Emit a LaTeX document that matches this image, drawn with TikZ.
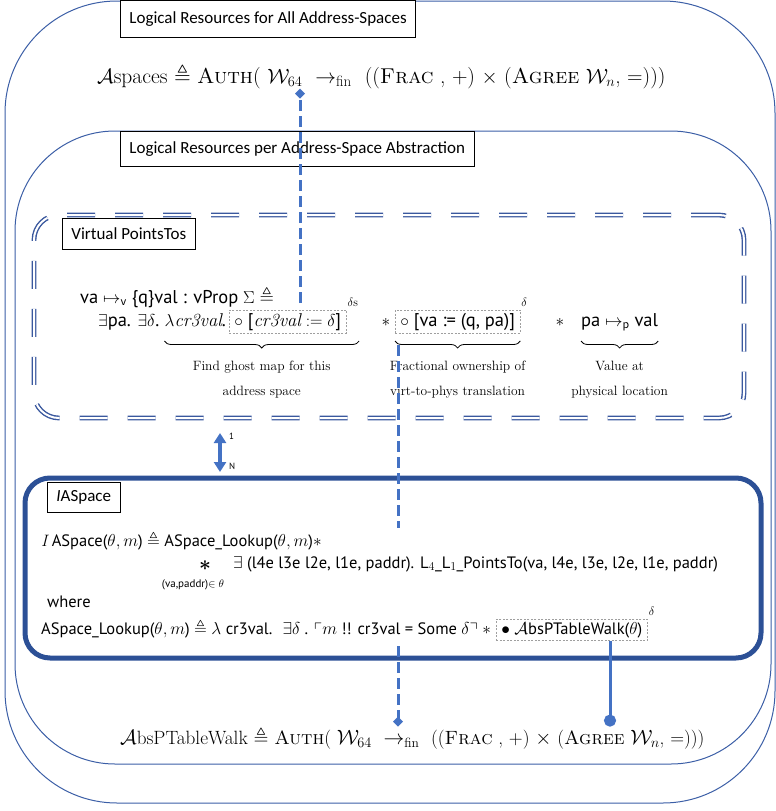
\documentclass[tikz,border=0pt]{standalone}
\usepackage{amsmath,amssymb}
\usepackage{fontspec}
\usetikzlibrary{arrows.meta,decorations.pathreplacing,calc}
\newfontfamily\lblfont{Carlito}
\newfontfamily\sansf{PT Sans}
\definecolor{boxblue}{RGB}{59,94,166}
\definecolor{connblue}{RGB}{68,114,196}
\definecolor{navyblue}{RGB}{44,80,150}
\definecolor{dblblue}{RGB}{58,88,158}
\tikzset{
  container/.style={draw=boxblue, line width=1pt, inner sep=0pt, outer sep=0pt},
  lbl/.style={draw=black, fill=white, line width=0.8pt, font=\lblfont\fontsize{17}{19}\selectfont, inner xsep=9pt, inner ysep=0pt},
  bigf/.style={inner sep=0pt},
  sf/.style={font=\sansf\fontsize{18.5}{21}\selectfont, inner sep=0pt},
  sfi/.style={font=\sansf\fontsize{16.5}{20}\selectfont, inner sep=0pt},
  supf/.style={font=\fontsize{12}{13}\selectfont, inner sep=1pt},
  note/.style={font=\fontsize{13.5}{25}\selectfont, align=center, inner sep=0pt},
  dbox/.style={draw=gray!75, dash pattern=on 2pt off 1.5pt, line width=0.6pt, inner xsep=5pt, inner ysep=3pt},
  conn/.style={connblue, line width=3pt},
  dconn/.style={connblue, line width=3pt, dash pattern=on 11pt off 5pt},
  brc/.style={decorate, decoration={brace, mirror, amplitude=7pt}, line width=0.8pt},
}
\begin{document}
\begin{tikzpicture}[x=1pt,y=-1pt]
\useasboundingbox (0,0) rectangle (776,811);
% containers
\node[container, rounded corners=112pt, minimum width=770pt, minimum height=802pt] (outer) at (390,402) {};
\node[container, rounded corners=100pt, minimum width=756pt, minimum height=633pt] (perspace) at (393,447.5) {};
\node[draw=dblblue, line width=1.4pt, double=white, double distance=2pt, dash pattern=on 28pt off 20pt, rounded corners=25pt, minimum width=710pt, minimum height=203pt, inner sep=0pt] (vpt) at (389,316.5) {};
\node[draw=navyblue, line width=5pt, rounded corners=25pt, minimum width=736pt, minimum height=180pt, inner sep=0pt] (iasp) at (393,568) {};
% labels
\node[lbl, anchor=north west, minimum height=36pt] (lA) at (120,0.5) {Logical Resources for All Address-Spaces};
\node[lbl, anchor=north west, minimum height=35pt] (lB) at (120,131) {Logical Resources per Address-Space Abstraction};
\node[lbl, anchor=north west, minimum height=31pt] (lC) at (62,218) {Virtual PointsTos};
\node[lbl, anchor=north west, minimum height=30pt] (lD) at (47,482) {\textit{I}ASpace};
% top formula
\node[bigf, font=\fontsize{21.5}{24}\selectfont, anchor=west] (F1) at (97,76) {$\mathcal{A}$spaces $\triangleq$ \textsc{Auth}( $\mathcal{W}_{64}$ \ $\rightarrow_{\text{fin}}$ \ ((\textsc{Frac} , +) $\times$ (\textsc{Agree} $\mathcal{W}_n$, =)))};
% virtual points-to
\node[sf, anchor=base west] (v1) at (80,303) {va $\mapsto_{\mathsf{v}}$ \{q\}val : vProp $\Sigma$ $\triangleq$};
\node[sf, anchor=base west] (v2) at (98,326) {$\exists$pa. $\exists\delta$.};
\node[sf, anchor=base west] (lam) at ([xshift=5pt]v2.base east) {$\lambda\mathit{cr3val}$.};
\node[dbox, sf, inner xsep=5pt, inner ysep=3pt, anchor=base west] (g1) at ([xshift=3pt]lam.base east) {$\circ$ [$\mathit{cr3val} := \delta$]};
\node[supf, anchor=south west] (s1) at ([yshift=2pt]g1.north east) {$\delta$s};
\coordinate (st1x) at (386,326);
\node[sf, anchor=base] (st1) at (st1x) {$*$};
\coordinate (g2x) at (395,326);
\node[dbox, sf, inner xsep=5pt, inner ysep=3pt, anchor=base west] (g2) at (g2x) {$\circ$ [va := (q, pa)]};
\node[supf, anchor=south west] (s2) at ([yshift=2pt]g2.north east) {$\delta$};
\coordinate (st2x) at (560,326);
\node[sf, anchor=base] (st2) at (st2x) {$*$};
\coordinate (pvx) at (581,326);
\node[sf, anchor=base west] (pv) at (pvx) {pa $\mapsto_{\mathsf{p}}$ val};
\coordinate (by) at (0,341);
\coordinate (b1l) at (lam.west |- by); \coordinate (b1r) at (s1.east |- by);
\coordinate (b2l) at (g2.west |- by); \coordinate (b2r) at (g2.east |- by);
\coordinate (b3l) at (pv.west |- by); \coordinate (b3r) at (pv.east |- by);
\draw[brc] (b1l) -- (b1r);
\draw[brc] (b2l) -- (b2r);
\draw[brc] (b3l) -- (b3r);
\node[note] (n1) at ($(b1l)!0.5!(b1r)+(0,39)$) {Find ghost map for this\\address space};
\node[note] (n2) at ($(b2l)!0.5!(b2r)+(0,39)$) {Fractional ownership of\\virt-to-phys translation};
\node[note] (n3) at ($(b3l)!0.5!(b3r)+(0,39)$) {Value at\\physical location};
% IASpace content
\node[sfi, anchor=base west] (i1) at (41,546) {$\mathit{I}$ ASpace($\theta, m$) $\triangleq$ ASpace\_Lookup($\theta, m$)$*$};
\node[sfi, anchor=base, font=\boldmath\fontsize{22}{22}\selectfont, text height=10pt, text depth=0pt] (bigstar) at (205,570) {$*$};
\node[sfi, anchor=base west] (i2) at (233,568) {$\exists$ (l4e l3e l2e, l1e, paddr). L$_4$\_L$_1$\_PointsTo(va, l4e, l3e, l2e, l1e, paddr)};
\node[sfi, anchor=base, font=\sansf\fontsize{11}{12}\selectfont] (sub) at (193,587) {(va,paddr)$\in\theta$};
\node[sfi, anchor=base west] (wh) at (47,607) {where};
\node[sfi, anchor=base west] (i3) at (41,634) {ASpace\_Lookup($\theta, m$) $\triangleq$ $\lambda$ cr3val. \ $\exists\delta$ . $\ulcorner m$ !! cr3val = Some $\delta\urcorner$ $*$};
\node[dbox, sfi, inner xsep=5pt, inner ysep=3pt, anchor=base west] (g3) at ([xshift=5pt]i3.base east) {$\bullet$ $\mathcal{A}$bsPTableWalk($\theta$)};
\node[supf, anchor=south west] (s3) at ([yshift=2pt]g3.north east) {$\delta$};
% bottom formula
\node[bigf, font=\fontsize{19.2}{22}\selectfont, anchor=west] (F2) at (120,738) {$\mathcal{A}$bsPTableWalk $\triangleq$ \textsc{Auth}( $\mathcal{W}_{64}$ \ $\rightarrow_{\text{fin}}$ \ ((\textsc{Frac} , +) $\times$ (\textsc{Agree} $\mathcal{W}_n$, =)))};
% connectors
\coordinate (d1s) at (300,303);
\draw[dconn, -{Diamond[length=10pt,width=10pt]}] (d1s) -- (d1s |- F1.south);
\coordinate (d2a) at (398,345);
\coordinate (d2b) at (398,528);
\draw[dconn] (d2a) -- (d2b);
\coordinate (d3s) at (398,646);
\draw[dconn, -{Diamond[length=10pt,width=10pt]}] (d3s) -- (d3s |- F2.north);
\coordinate (c1x) at (610,0);
\coordinate (c1s) at (g3.south -| c1x);
\draw[conn, -{Circle[length=12pt]}] (c1s) -- (c1s |- F2.north);
\coordinate (ar1) at (220,433);
\coordinate (ar2) at (220,472);
\draw[connblue, line width=3.5pt, {Triangle[length=10pt,width=12pt]}-{Triangle[length=10pt,width=12pt]}] (ar1) -- (ar2);
\node[font=\sansf\fontsize{9}{10}\selectfont, anchor=west, inner sep=0pt] (one) at (229,436) {1};
\node[font=\sansf\fontsize{9}{10}\selectfont, anchor=west, inner sep=0pt] (enn) at (229,466) {N};
\end{tikzpicture}
\end{document}
